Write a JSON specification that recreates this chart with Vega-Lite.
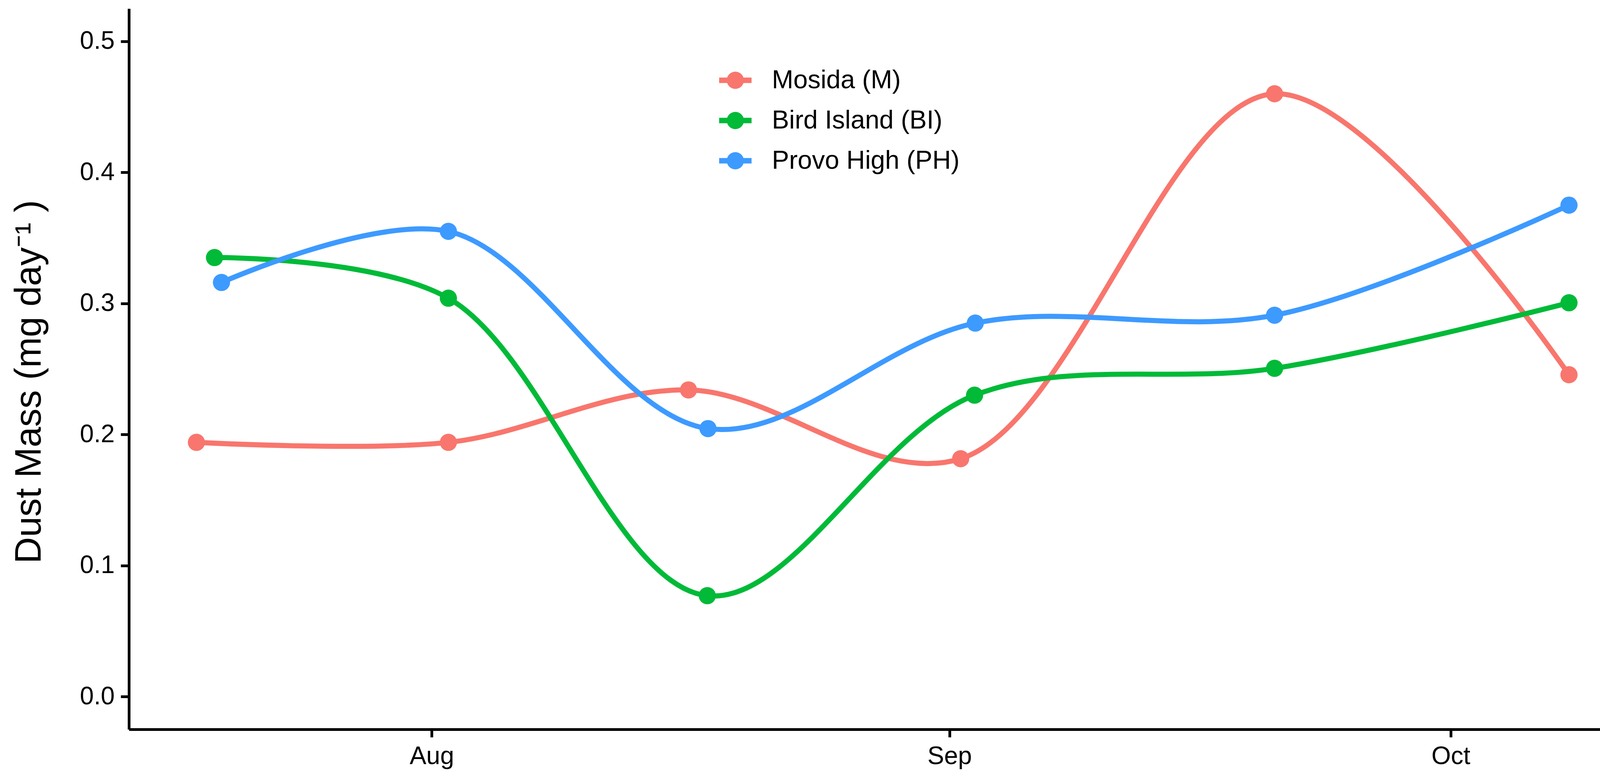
{
  "$schema": "https://vega.github.io/schema/vega-lite/v6.json",
  "width": 3863,
  "height": 1845,
  "autosize": {"type": "none"},
  "padding": {"left": 330, "top": 22, "right": 6, "bottom": 122},
  "background": "white",
  "config": {"view": {"stroke": null}, "font": "Liberation Sans"},
  "data": {
    "values": [
      {"site": "Mosida (M)", "date": "2018-07-17T22:00:00Z", "mass": 0.194},
      {"site": "Mosida (M)", "date": "2018-08-02T00:00:00Z", "mass": 0.194},
      {"site": "Mosida (M)", "date": "2018-08-16T09:00:00Z", "mass": 0.234},
      {"site": "Mosida (M)", "date": "2018-09-01T16:00:00Z", "mass": 0.1815},
      {"site": "Mosida (M)", "date": "2018-09-20T11:00:00Z", "mass": 0.46},
      {"site": "Mosida (M)", "date": "2018-10-08T02:00:00Z", "mass": 0.2456},
      {"site": "Bird Island (BI)", "date": "2018-07-19T00:00:00Z", "mass": 0.335},
      {"site": "Bird Island (BI)", "date": "2018-08-02T00:00:00Z", "mass": 0.304},
      {"site": "Bird Island (BI)", "date": "2018-08-17T12:00:00Z", "mass": 0.077},
      {"site": "Bird Island (BI)", "date": "2018-09-02T12:00:00Z", "mass": 0.23},
      {"site": "Bird Island (BI)", "date": "2018-09-20T11:00:00Z", "mass": 0.2505},
      {"site": "Bird Island (BI)", "date": "2018-10-08T02:00:00Z", "mass": 0.3005},
      {"site": "Provo High (PH)", "date": "2018-07-19T10:00:00Z", "mass": 0.316},
      {"site": "Provo High (PH)", "date": "2018-08-02T00:00:00Z", "mass": 0.355},
      {"site": "Provo High (PH)", "date": "2018-08-17T13:00:00Z", "mass": 0.2045},
      {"site": "Provo High (PH)", "date": "2018-09-02T13:00:00Z", "mass": 0.285},
      {"site": "Provo High (PH)", "date": "2018-09-20T11:00:00Z", "mass": 0.291},
      {"site": "Provo High (PH)", "date": "2018-10-08T02:00:00Z", "mass": 0.375}
    ]
  },
  "encoding": {
    "x": {
      "field": "date",
      "type": "temporal",
      "scale": {
        "type": "utc",
        "domain": [
          {"year": 2018, "month": 7, "date": 13, "hours": 21, "utc": true},
          {"year": 2018, "month": 10, "date": 12, "hours": 5, "utc": true}
        ]
      },
      "axis": {
        "title": null,
        "grid": false,
        "values": [
          {"year": 2018, "month": 8, "date": 1, "utc": true},
          {"year": 2018, "month": 9, "date": 1, "utc": true},
          {"year": 2018, "month": 10, "date": 1, "utc": true}
        ],
        "format": "%b",
        "domainColor": "black",
        "domainWidth": 7,
        "tickColor": "black",
        "tickWidth": 7,
        "tickSize": 20,
        "labelFontSize": 64,
        "labelColor": "black",
        "labelPadding": 17,
        "labelFlush": false,
        "labelOverlap": false
      }
    },
    "y": {
      "field": "mass",
      "type": "quantitative",
      "scale": {"domain": [-0.025, 0.525], "nice": false, "zero": false},
      "axis": {
        "title": "Dust Mass (mg day⁻¹ )",
        "grid": false,
        "values": [0, 0.1, 0.2, 0.3, 0.4, 0.5],
        "format": ".1f",
        "domainColor": "black",
        "domainWidth": 7,
        "tickColor": "black",
        "tickWidth": 7,
        "tickSize": 21,
        "labelFontSize": 64,
        "labelColor": "black",
        "labelPadding": 16,
        "labelFlush": false,
        "labelOverlap": false,
        "titleFontSize": 94,
        "titleFontWeight": "normal",
        "titleColor": "black",
        "titleAngle": 270,
        "titleAlign": "center",
        "titleBaseline": "middle",
        "titleX": -255,
        "titleY": 955
      }
    },
    "color": {
      "field": "site",
      "type": "nominal",
      "scale": {
        "domain": ["Mosida (M)", "Bird Island (BI)", "Provo High (PH)"],
        "range": ["#F8766D", "#00BA38", "#3D9AFF"]
      },
      "legend": {
        "title": null,
        "orient": "none",
        "legendX": 1511,
        "legendY": 142,
        "padding": 0,
        "symbolType": "M -1 -0.17 L 1 -0.17 L 1 0.17 L -1 0.17 Z M -0.53 0 A 0.53 0.53 0 1 1 0.53 0 A 0.53 0.53 0 1 1 -0.53 0 Z",
        "symbolSize": 6889,
        "symbolStrokeWidth": 0,
        "symbolOpacity": 1,
        "labelFontSize": 66,
        "labelColor": "black",
        "labelOffset": 52,
        "rowPadding": 28,
        "labelLimit": 1000
      }
    }
  },
  "layer": [
    {
      "mark": {"type": "line", "interpolate": "catmull-rom", "strokeWidth": 13}
    },
    {
      "mark": {"type": "point", "filled": true, "size": 1936, "opacity": 1}
    }
  ]
}
